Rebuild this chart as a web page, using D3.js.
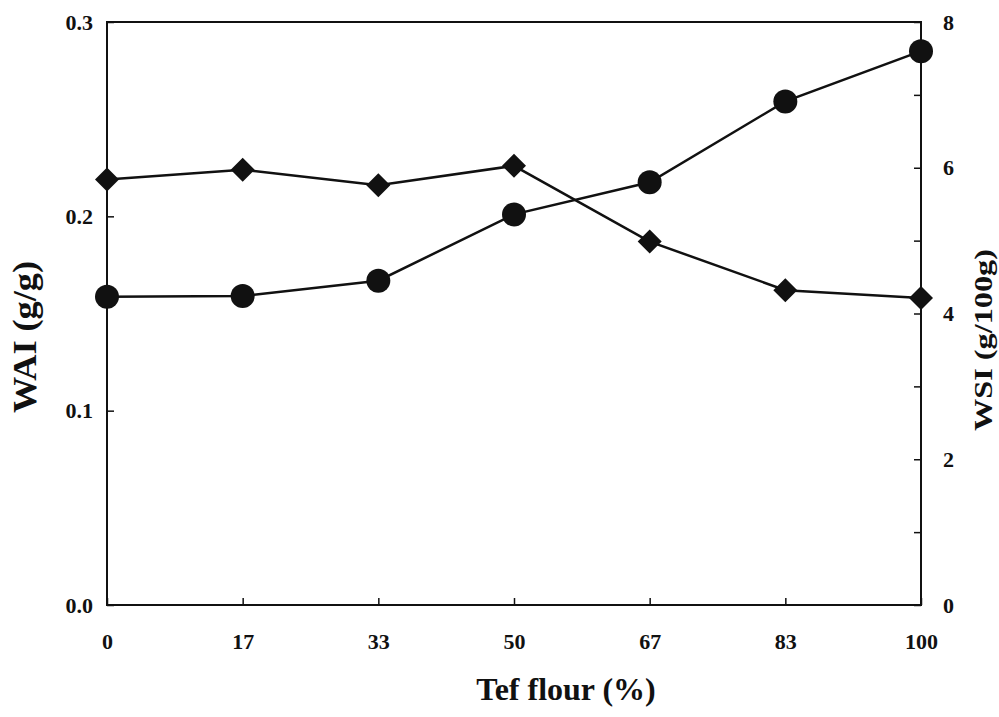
<!DOCTYPE html>
<html>
<head>
<meta charset="utf-8">
<script src="https://cdn.jsdelivr.net/npm/d3@7"></script>
<style>
    body { margin: 0; background: #fff; overflow: hidden; }
    text { font-family: "Liberation Serif", "DejaVu Serif", serif; font-weight: bold; fill: #111; }
</style>
</head>
<body>
<div id="pict"></div>
<script>
// data
const categories = ["0", "17", "33", "50", "67", "83", "100"];
const wai = [0.219, 0.224, 0.216, 0.226, 0.187, 0.162, 0.158];   // diamonds, left axis
const wsi = [4.23, 4.24, 4.45, 5.36, 5.80, 6.91, 7.60];          // circles, right axis
const leftTicks = [0, 0.1, 0.2, 0.3];
const rightTicks = [0, 1, 2, 3, 4, 5, 6, 7, 8];
const rightLabels = [0, 2, 4, 6, 8];

const config = {
    width: 999,
    height: 717,
    margin: { top: 22, left: 107, bottom: 112, right: 78 },
    r: 12,
    color: "#111",
    tickFont: 22
}

const svg = d3.select("#pict")
    .append("svg")
    .attr("width", config.width)
    .attr("height", config.height)

const x0 = config.margin.left
const x1 = config.width - config.margin.right
const y0 = config.height - config.margin.bottom
const y1 = config.margin.top

const scale_x = d3.scalePoint()
    .domain(categories)
    .range([x0, x1])
const scale_yl = d3.scaleLinear()
    .domain([0, 0.3])
    .range([y0, y1])
const scale_yr = d3.scaleLinear()
    .domain([0, 8])
    .range([y0, y1])

draw_axis()
draw_lines()

function style_axis(g) {
    g.select(".domain").remove()
    g.selectAll("line").attr("stroke", config.color).attr("stroke-width", 1.5)
    g.selectAll("text").attr("font-size", config.tickFont).attr("font-family", null)
}

function draw_axis() {
    // frame
    svg.append("rect")
        .attr("x", x0).attr("y", y1)
        .attr("width", x1 - x0).attr("height", y0 - y1)
        .attr("fill", "none")
        .attr("stroke", config.color)
        .attr("stroke-width", 2)

    // bottom axis, ticks point inward
    const axis_x = d3.axisBottom(scale_x).tickSize(-7).tickPadding(28)
    svg.append("g")
        .attr("transform", `translate(0, ${y0})`)
        .call(axis_x)
        .call(style_axis)

    const axis_l = d3.axisLeft(scale_yl)
        .tickValues(leftTicks)
        .tickFormat(d3.format(".1f"))
        .tickSize(-7)
        .tickPadding(14)
    svg.append("g")
        .attr("transform", `translate(${x0}, 0)`)
        .call(axis_l)
        .call(style_axis)

    const axis_r = d3.axisRight(scale_yr)
        .tickValues(rightTicks)
        .tickFormat(d => rightLabels.includes(d) ? d : "")
        .tickSize(-7)
        .tickPadding(22)
    svg.append("g")
        .attr("transform", `translate(${x1}, 0)`)
        .call(axis_r)
        .call(style_axis)

    svg.append("text")
        .attr("x", 566)
        .attr("y", 700)
        .attr("text-anchor", "middle")
        .attr("font-size", 32)
        .text("Tef flour (%)")

    svg.append("text")
        .attr("transform", `translate(36, 337) rotate(-90)`)
        .attr("text-anchor", "middle")
        .attr("font-size", 33)
        .attr("textLength", 152)
        .attr("lengthAdjust", "spacingAndGlyphs")
        .text("WAI (g/g)")

    // narrow label squeezed against the right edge, as in the scan
    svg.append("text")
        .attr("transform", `translate(992, 340) rotate(-90)`)
        .attr("text-anchor", "middle")
        .attr("font-size", 25)
        .attr("textLength", 182)
        .attr("lengthAdjust", "spacingAndGlyphs")
        .text("WSI (g/100g)")
}

function draw_lines() {
    const line_l = d3.line()
        .x((d, i) => scale_x(categories[i]))
        .y(d => scale_yl(d))
    const line_r = d3.line()
        .x((d, i) => scale_x(categories[i]))
        .y(d => scale_yr(d))

    svg.append("path")
        .attr("d", line_l(wai))
        .attr("fill", "none")
        .attr("stroke", config.color)
        .attr("stroke-width", 2.5)
    svg.append("path")
        .attr("d", line_r(wsi))
        .attr("fill", "none")
        .attr("stroke", config.color)
        .attr("stroke-width", 2.5)

    // diamonds
    const s = config.r
    svg.append("g")
        .selectAll("path")
        .data(wai)
        .join("path")
        .attr("transform", (d, i) => `translate(${scale_x(categories[i])}, ${scale_yl(d)})`)
        .attr("d", `M0,${-s}L${s},0L0,${s}L${-s},0Z`)
        .attr("fill", config.color)

    // circles
    svg.append("g")
        .selectAll("circle")
        .data(wsi)
        .join("circle")
        .attr("cx", (d, i) => scale_x(categories[i]))
        .attr("cy", d => scale_yr(d))
        .attr("r", config.r)
        .attr("fill", config.color)
}
</script>
</body>
</html>
